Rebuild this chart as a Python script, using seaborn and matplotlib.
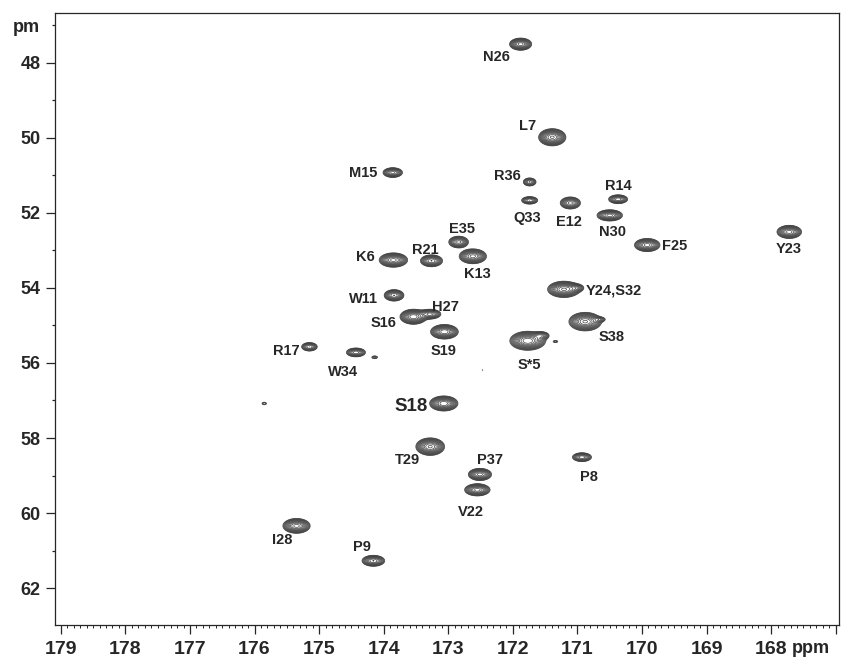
import numpy as np
import seaborn as sns
from matplotlib import pyplot as plt
from matplotlib.ticker import MultipleLocator, FixedLocator, FixedFormatter

# Peak list (13C' vs 13C-alpha, ppm)
labels = ['N26', 'L7', 'M15', 'R36', 'Q33', 'E12', 'R14', 'N30', 'F25', 'Y23',
          'E35', 'K6', 'R21', 'K13', 'Y24,S32', 'W11', 'S16', 'H27', 'S19', 'S38',
          'S*5', 'R17', 'W34', 'S18', 'T29', 'P37', 'V22', 'P8', 'I28', 'P9']
co_ppm = [171.88, 171.39, 173.86, 171.74, 171.74, 171.11, 170.37, 170.50, 169.92, 167.72,
          172.84, 173.85, 173.26, 172.62, 171.21, 173.84, 173.54, 173.28, 173.06, 170.88,
          171.77, 175.15, 174.43, 173.07, 173.28, 172.51, 172.55, 170.93, 175.35, 174.16]
ca_ppm = [47.51, 49.99, 50.93, 51.18, 51.67, 51.74, 51.64, 52.07, 52.86, 52.51,
          52.78, 53.26, 53.28, 53.16, 54.04, 54.20, 54.77, 54.70, 55.17, 54.90,
          55.41, 55.57, 55.72, 57.08, 58.23, 58.97, 59.38, 58.51, 60.34, 61.27]
width_co = [0.080, 0.092, 0.074, 0.055, 0.066, 0.077, 0.075, 0.092, 0.092, 0.089,
            0.075, 0.099, 0.082, 0.095, 0.110, 0.073, 0.092, 0.081, 0.095, 0.110,
            0.118, 0.064, 0.075, 0.097, 0.097, 0.084, 0.092, 0.075, 0.095, 0.084]
width_ca = [0.076, 0.100, 0.064, 0.060, 0.053, 0.079, 0.060, 0.070, 0.082, 0.082,
            0.077, 0.086, 0.076, 0.089, 0.095, 0.073, 0.089, 0.064, 0.086, 0.108,
            0.108, 0.060, 0.060, 0.089, 0.102, 0.076, 0.076, 0.060, 0.089, 0.070]
height = [10, 14, 8, 5, 6, 8, 7, 10, 10, 10,
          8, 12, 9, 12, 14, 9, 13, 8, 13, 14,
          16, 6, 7, 13, 14, 10, 10, 7, 12, 9]

# label offsets from the peak (pixels)
label_dx = [-24, -25, -30, -22, -2, -1, 0, 3, 27, -1,
            3, -28, -6, 5, 50, -31, -30, 15, -1, 26,
            2, -23, -13, -33, -23, 10, -6, 7, -14, -11]
label_dy = [13, -11, 0, -6, 18, 19, -13, 17, 1, 17,
            -13, -3, -11, 18, 1, 4, 6, -7, 19, 15,
            24, 4, 20, 3, 13, -14, 22, 20, 14, -14]

# shoulders and weak unassigned signals
extra_co = [171.02, 170.66, 171.56, 171.34, 174.14, 175.85, 172.47]
extra_ca = [54.00, 54.84, 55.27, 55.43, 55.85, 57.08, 56.19]
extra_wco = [0.065, 0.055, 0.065, 0.032, 0.038, 0.032, 0.010]
extra_wca = [0.055, 0.038, 0.055, 0.027, 0.032, 0.032, 0.010]
extra_h = [4, 3, 5, 1.8, 2.0, 1.8, 1.25]

x_ticks = list(range(179, 166, -1))
x_ticklabels = [str(t) for t in x_ticks[:-1]] + ['']

x = np.arange(166.9, 179.2, 0.01)
y = np.arange(46.6, 63.1, 0.01)
X, Y = np.meshgrid(x, y)
Z = np.zeros_like(X)
for cx, cy, sx, sy, a in zip(co_ppm + extra_co, ca_ppm + extra_ca,
                             width_co + extra_wco, width_ca + extra_wca,
                             height + extra_h):
    Z += a * np.exp(-((X - cx) ** 2 / (2 * sx ** 2) + (Y - cy) ** 2 / (2 * sy ** 2)))

sns.set_style('ticks')
plt.rcParams['font.family'] = ['Liberation Sans', 'DejaVu Sans']
plt.rcParams['font.weight'] = 'bold'

fig = plt.figure(figsize=(8.44, 6.61), dpi=100)
ax = fig.add_axes([55 / 844, 36 / 661, 784 / 844, 612 / 661])

levels = 1.22 ** np.arange(0, 16)
ax.contour(X, Y, Z, levels=levels, colors='#404040', linewidths=0.5)

for lab, cx, cy, dx, dy in zip(labels, co_ppm, ca_ppm, label_dx, label_dy):
    size = 13.5 if lab == 'S18' else 10.5
    ax.annotate(lab, (cx, cy), xytext=(dx, -dy), textcoords='offset pixels',
                ha='center', va='center', fontsize=size, fontweight='bold')

ax.set_xlim(179.09, 166.95)
ax.set_ylim(62.98, 46.68)

ax.set_xticks(x_ticks)
ax.set_xticklabels(x_ticklabels)
ax.xaxis.set_minor_locator(MultipleLocator(0.1))
ax.set_yticks(np.arange(48, 63, 2))
ax.yaxis.set_minor_locator(FixedLocator(np.arange(47, 63, 2)))
ax.yaxis.set_minor_formatter(FixedFormatter(['pm'] + [''] * 7))

ax.tick_params(axis='x', which='major', length=6.5, width=0.9, labelsize=14, pad=5)
ax.tick_params(axis='x', which='minor', length=2.4, width=0.7)
ax.tick_params(axis='y', which='major', length=6.5, width=0.9, labelsize=13, pad=4)
ax.tick_params(axis='y', which='minor', length=2.0, width=0.9, labelsize=13, pad=8.5)
for lbl in ax.get_xticklabels() + ax.get_yticklabels() + ax.get_yminorticklabels():
    lbl.set_fontweight('bold')

for sp in ax.spines.values():
    sp.set_linewidth(0.9)

ax.annotate('ppm', (167.38, 62.98), xytext=(0, -15), textcoords='offset pixels',
            ha='center', va='top', fontsize=13, fontweight='bold',
            annotation_clip=False)

fig.savefig('out.png', dpi=100)
